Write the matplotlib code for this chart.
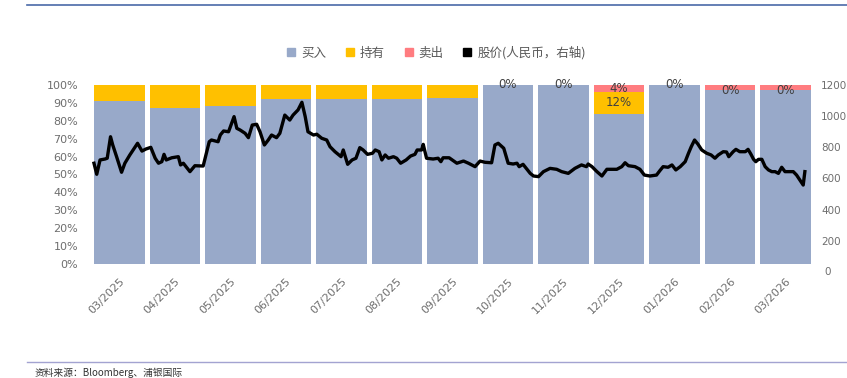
import matplotlib
matplotlib.use('Agg')
import matplotlib.pyplot as plt
from matplotlib.lines import Line2D
import matplotlib.transforms as mtransforms
import numpy as np

plt.rcParams['font.family'] = ['DejaVu Sans', 'Noto Sans CJK SC']

months = ['03/2025', '04/2025', '05/2025', '06/2025', '07/2025', '08/2025', '09/2025',
          '10/2025', '11/2025', '12/2025', '01/2026', '02/2026', '03/2026']
buy = [91, 87, 88, 92, 92, 92, 92.5, 100, 100, 84, 100, 97, 97]
hold = [9, 13, 12, 8, 8, 8, 7.5, 0, 0, 12, 0, 0, 0]
sell = [0, 0, 0, 0, 0, 0, 0, 0, 0, 4, 0, 3, 3]

# stock price (RMB), position in months since start of 03/2025
price_t = [0.00, 0.05, 0.11, 0.20, 0.24, 0.30, 0.34, 0.41, 0.50, 0.56, 0.65, 0.79, 0.87, 0.94,
           1.03, 1.11, 1.17, 1.23, 1.27, 1.31, 1.41, 1.53, 1.57, 1.62, 1.74, 1.83, 1.98, 2.09,
           2.13, 2.25, 2.29, 2.35, 2.44, 2.54, 2.59, 2.65, 2.74, 2.80, 2.87, 2.95, 3.01, 3.09,
           3.16, 3.22, 3.31, 3.37, 3.46, 3.55, 3.61, 3.70, 3.77, 3.83, 3.88, 3.98, 4.04, 4.13,
           4.22, 4.28, 4.37, 4.48, 4.52, 4.60, 4.68, 4.75, 4.82, 4.88, 4.96, 5.05, 5.10, 5.17,
           5.22, 5.28, 5.34, 5.43, 5.49, 5.56, 5.66, 5.74, 5.82, 5.86, 5.94, 5.97, 6.03, 6.15,
           6.24, 6.29, 6.33, 6.44, 6.58, 6.70, 6.79, 6.91, 7.00, 7.09, 7.21, 7.27, 7.33, 7.43,
           7.51, 7.60, 7.67, 7.71, 7.78, 7.91, 7.97, 8.06, 8.15, 8.27, 8.39, 8.48, 8.60, 8.72,
           8.84, 8.93, 8.96, 9.03, 9.12, 9.21, 9.30, 9.39, 9.48, 9.57, 9.63, 9.69, 9.81, 9.90,
           9.98, 10.08, 10.20, 10.26, 10.32, 10.41, 10.48, 10.55, 10.63, 10.72, 10.78, 10.83,
           10.89, 10.95, 11.02, 11.11, 11.19, 11.26, 11.32, 11.41, 11.47, 11.51, 11.59, 11.64,
           11.71, 11.81, 11.86, 11.91, 11.96, 12.00, 12.05, 12.11, 12.17, 12.23, 12.29, 12.35,
           12.41, 12.47, 12.53, 12.62, 12.68, 12.74, 12.80, 12.86, 12.89]
price = [698, 627, 719, 725, 730, 868, 815, 740, 640, 698, 751, 826, 776, 789,
         800, 730, 698, 708, 755, 719, 733, 740, 687, 698, 644, 682, 680, 836,
         847, 836, 879, 905, 900, 997, 922, 911, 890, 862, 943, 948, 900, 815,
         847, 879, 862, 890, 1007, 975, 1007, 1040, 1089, 997, 900, 879, 884, 858,
         847, 804, 772, 740, 783, 691, 719, 730, 798, 783, 755, 762, 783, 772,
         719, 751, 730, 740, 730, 698, 719, 744, 755, 783, 783, 819, 730, 725,
         730, 708, 733, 733, 698, 712, 698, 676, 712, 704, 701, 815, 826, 794,
         698, 693, 698, 676, 691, 633, 616, 612, 644, 665, 659, 644, 633, 665,
         687, 676, 693, 676, 644, 616, 659, 659, 659, 676, 701, 682, 676, 659,
         622, 616, 622, 650, 676, 672, 687, 655, 676, 708, 762, 804,
         847, 821, 783, 762, 751, 730, 751, 772, 770, 740, 772, 787,
         772, 772, 787, 757, 723, 708, 723, 723, 676, 655, 644, 644,
         633, 672, 644, 644, 644, 622, 590, 558, 644]

c_buy = '#98a9c9'
c_hold = '#ffc000'
c_sell = '#ff7c80'
grey = '#6e6e6e'

fig = plt.figure(figsize=(8.47, 3.78), dpi=100)
pos = [91.5 / 847, 1 - 264 / 378, 721.8 / 847, 179 / 378]
ax = fig.add_axes(pos)

x = np.arange(len(months))
buy = np.array(buy)
hold = np.array(hold)
sell = np.array(sell)
ax.bar(x, buy, width=0.91, color=c_buy, zorder=1)
ax.bar(x, hold, width=0.91, bottom=buy, color=c_hold, zorder=1)
ax.bar(x, sell, width=0.91, bottom=buy + hold, color=c_sell, zorder=1)

# data labels
for i in range(len(months)):
    if i >= 7:
        ax.text(i, buy[i] + hold[i] / 2, '%d%%' % hold[i], ha='center', va='center',
                fontsize=8.5, color='#404040', zorder=5)
    if sell[i] >= 4:
        ax.text(i, buy[i] + hold[i] + sell[i] / 2, '%d%%' % sell[i], ha='center',
                va='center', fontsize=8.5, color='#404040', zorder=5)

ax.set_xlim(-0.5, len(months) - 0.5)
ax.set_ylim(0, 100)
ax.set_yticks(np.arange(0, 101, 10))
ax.set_yticklabels(['%d%%' % v for v in range(0, 101, 10)])
ax.set_xticks(x)
ax.set_xticklabels(months, rotation=45, ha='right', rotation_mode='anchor')
offset = mtransforms.ScaledTranslation(11 / 72, 0, fig.dpi_scale_trans)
for lab in ax.get_xticklabels():
    lab.set_transform(lab.get_transform() + offset)
ax.tick_params(axis='both', length=0, labelsize=8, colors=grey)
ax.tick_params(axis='y', pad=9.5)
ax.tick_params(axis='x', pad=8.5)
for s in ax.spines.values():
    s.set_visible(False)

# price line on secondary axis
ax2 = fig.add_axes(pos, frameon=False)
ax2.plot(price_t, price, color='black', lw=2.4, solid_joinstyle='round', zorder=3)
ax2.set_xlim(-0.045, 13.043)
ax2.set_ylim(51.3, 1200)
ax2.set_xticks([])
ax2.yaxis.tick_right()
ax2.set_yticks(np.arange(200, 1201, 200))
ax2.tick_params(axis='y', length=0, labelsize=7.5, colors=grey, pad=5.5)
ax2.text(1.0 + 11 / 721.8, 0, '0', transform=ax2.get_yaxis_transform(), ha='left',
         va='center', fontsize=7.5, color=grey, clip_on=False)

# legend
handles = [Line2D([], [], marker='s', ls='none', color=c_buy, markersize=6),
           Line2D([], [], marker='s', ls='none', color=c_hold, markersize=6),
           Line2D([], [], marker='s', ls='none', color=c_sell, markersize=6),
           Line2D([], [], marker='s', ls='none', color='black', markersize=6)]
labels = ['买入', '持有', '卖出', '股价(人民币，右轴)']
leg = fig.legend(handles, labels, loc='center', bbox_to_anchor=(436 / 847, 1 - 53 / 378),
                 ncol=4, frameon=False, handlelength=0.8, handletextpad=0.4,
                 columnspacing=1.5, prop={'family': ['Noto Sans CJK SC'], 'size': 9})
for t in leg.get_texts():
    t.set_color('#595959')

# top and bottom rules, source
fig.add_artist(Line2D([27 / 847, 1], [1 - 5 / 378] * 2, color='#4a6aa8', lw=1.2))
fig.add_artist(Line2D([27 / 847, 1], [1 - 362 / 378] * 2, color='#a3a3d1', lw=1.0))
fig.text(35 / 847, 1 - 373 / 378, '资料来源：Bloomberg、浦银国际', fontsize=7, color='#333333',
         va='center', family=['Noto Sans CJK SC', 'DejaVu Sans'])

plt.savefig('out.png', dpi=100)
